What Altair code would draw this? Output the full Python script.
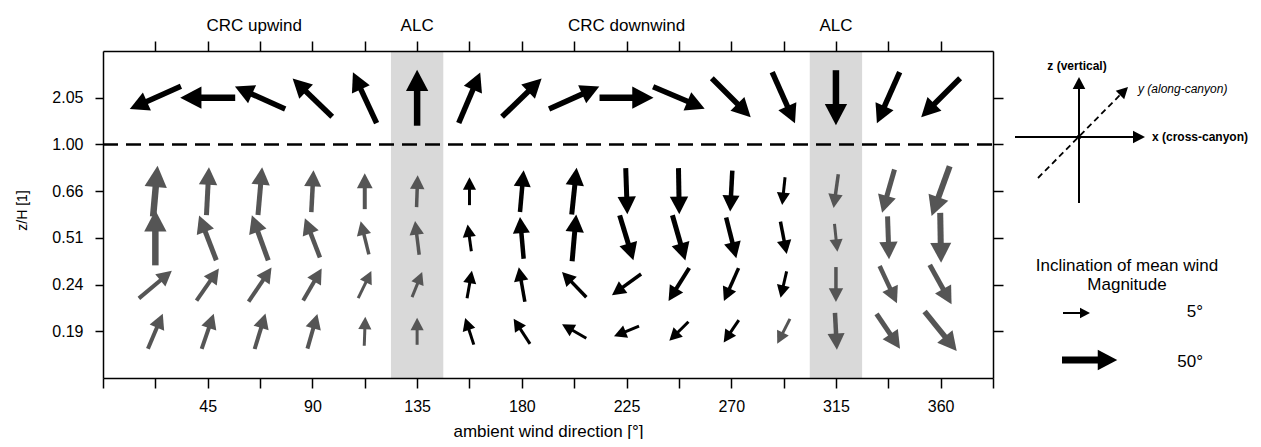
import altair as alt
import pandas as pd

# ---------------- data ----------------
W, H = 890, 327
X_MAX = 382.5
Y_MAX = 7

directions = [22.5, 45, 67.5, 90, 112.5, 135, 157.5, 180, 202.5, 225, 247.5, 270, 292.5, 315, 337.5, 360]

x_tick_values = [0, 22.5, 45, 67.5, 90, 112.5, 135, 157.5, 180, 202.5, 225, 247.5,
                 270, 292.5, 315, 337.5, 360, 382.5]
x_tick_labels = ["", "", "45", "", "90", "", "135", "", "180", "", "225", "",
                 "270", "", "315", "", "360", ""]
top_tick_values = directions

y_level_labels = ["0.19", "0.24", "0.51", "0.66", "1.00", "2.05"]
y_tick_values = [1, 2, 3, 4, 5, 6]

top_labels = ["CRC upwind", "ALC", "CRC downwind", "ALC"]
top_label_dirs = [65, 135, 225, 315]
alc_dirs = [135, 315]

# arrow direction on the page (deg clockwise from up), length (px), width (px), group
ang_205 = [246, 270, 294, 314, 335, 0, 23, 46, 66, 90, 113, 135, 156, 180, 204, 225]
len_205 = [56, 55, 55, 55, 56, 56, 55, 55, 55, 54, 56, 55, 56, 55, 56, 55]
wid_205 = [5.5, 6.5, 5.5, 5.5, 5.5, 6.5, 5.5, 5.5, 5.5, 6.5, 5.5, 5.5, 5.5, 6.5, 5.5, 5.5]
grp_205 = ["black"] * 16

ang_066 = [5, 3, 5, 3, 0, 2, 0, 5, 6, 178, 179, 183, 186, 188, 196, 200]
len_066 = [51, 48, 48, 42, 36, 32, 28, 42, 47, 46, 46, 41, 28, 34, 45, 53]
wid_066 = [6.5, 5, 5, 4.5, 4, 3.5, 3, 4.5, 5, 5, 5, 4.5, 3, 3.5, 5, 6]
grp_066 = ["grey"] * 6 + ["black"] * 7 + ["grey"] * 3

ang_051 = [0, 339, 340, 339, 346, 353, 352, 355, 5, 163, 164, 166, 169, 174, 178, 179]
len_051 = [55, 48, 48, 42, 34, 34, 27, 42, 47, 47, 47, 42, 33, 28, 43, 50]
wid_051 = [6.5, 5, 5, 4.5, 3.5, 3.5, 3, 4.5, 5, 5, 5, 4.5, 3.5, 3, 5, 6]
grp_051 = ["grey"] * 6 + ["black"] * 7 + ["grey"] * 3

ang_024 = [50, 35, 34, 30, 26, 22, 10, 350, 316, 234, 212, 204, 193, 180, 155, 151]
len_024 = [43, 39, 41, 37, 30, 27, 28, 35, 35, 36, 39, 36, 27, 35, 41, 45]
wid_024 = [4, 4, 4, 4, 3, 3, 3, 3.5, 3.5, 3.5, 4, 3.5, 3, 3.5, 4.5, 5]
grp_024 = ["grey"] * 6 + ["black"] * 7 + ["grey"] * 3

ang_019 = [23, 19, 17, 16, 2, 0, 342, 327, 300, 248, 225, 214, 207, 177, 146, 141]
len_019 = [38, 37, 37, 36, 29, 27, 28, 30, 28, 27, 27, 27, 28, 37, 42, 51]
wid_019 = [4, 4, 4, 4, 3, 3, 3, 3, 3, 3, 3, 3, 3, 4.5, 5, 5.5]
grp_019 = ["grey"] * 6 + ["black"] * 6 + ["grey"] * 4

rows = {
    "2.05": (ang_205, len_205, wid_205, grp_205),
    "0.66": (ang_066, len_066, wid_066, grp_066),
    "0.51": (ang_051, len_051, wid_051, grp_051),
    "0.24": (ang_024, len_024, wid_024, grp_024),
    "0.19": (ang_019, len_019, wid_019, grp_019),
}

recs = []
for lvl, (angs, lens, wids, grps) in rows.items():
    for d, a, l, w, g in zip(directions, angs, lens, wids, grps):
        recs.append(dict(dir=d, level=y_level_labels.index(lvl) + 1,
                         ang=a, len=l, w=w, grp=g))
arrows = pd.DataFrame(recs)

bands = pd.DataFrame({"c": alc_dirs})
toplab = pd.DataFrame({"dir": top_label_dirs, "label": top_labels})
dashed = pd.DataFrame({"level": [y_level_labels.index("1.00") + 1]})

# ---------------- scales / axes ----------------
xscale = alt.Scale(domain=[0, X_MAX], nice=False, zero=False)
yscale = alt.Scale(domain=[0, Y_MAX], nice=False, zero=False)

FONT = "Liberation Sans"
x_expr = "[" + ",".join("'%s'" % s for s in x_tick_labels) + "][round(datum.value/22.5)]"
y_expr = "[''," + ",".join("'%s'" % s for s in y_level_labels) + "][datum.value]"

common_axis = dict(grid=False, domainColor="black", domainWidth=1.5, tickColor="black",
                   tickWidth=1.5, zindex=1, labelColor="black", labelFont=FONT,
                   titleFont=FONT, titleColor="black", titleFontWeight="normal")

axis_bottom = alt.Axis(orient="bottom", values=x_tick_values, labelExpr=x_expr,
                       tickSize=10, labelFontSize=16, labelPadding=10, labelOverlap=False,
                       labelFlush=False,
                       title="ambient wind direction [°]", titleFontSize=17,
                       titleY=58, titleBaseline="alphabetic", **common_axis)
axis_top = alt.Axis(orient="top", values=top_tick_values, labels=False, tickSize=10,
                    title=None, **common_axis)
axis_left = alt.Axis(orient="left", values=y_tick_values, labelExpr=y_expr, tickSize=8,
                     labelFontSize=16, labelPadding=12, labelOverlap=False,
                     title="z/H [1]", titleFontSize=14, titleAngle=270, titleX=-81,
                     titleY=159, titleAlign="center", titleBaseline="middle", **common_axis)
axis_right = alt.Axis(orient="right", values=y_tick_values, labels=False, tickSize=10,
                      title=None, **common_axis)

KX = X_MAX / W
KY = Y_MAX / H

base = alt.Chart(arrows).transform_calculate(
    ux="sin(datum.ang*PI/180)", uy="cos(datum.ang*PI/180)", hl="2.5*datum.w+5"
).transform_calculate(
    xtip=f"datum.dir + 0.5*datum.len*datum.ux*{KX}",
    ytip=f"datum.level + 0.5*datum.len*datum.uy*{KY}",
    xtail=f"datum.dir - 0.5*datum.len*datum.ux*{KX}",
    ytail=f"datum.level - 0.5*datum.len*datum.uy*{KY}",
).transform_calculate(
    xs=f"datum.xtip - 0.8*datum.hl*datum.ux*{KX}",
    ys=f"datum.ytip - 0.8*datum.hl*datum.uy*{KY}",
    xh=f"datum.xtip - 0.5*datum.hl*datum.ux*{KX}",
    yh=f"datum.ytip - 0.5*datum.hl*datum.uy*{KY}",
    hs="datum.hl*datum.hl",
)

color = alt.Color("grp:N", scale=alt.Scale(domain=["black", "grey"], range=["#000000", "#555555"]),
                  legend=None)

band_layer = alt.Chart(bands).transform_calculate(
    x0="datum.c - 11.25", x1="datum.c + 11.25"
).mark_rect(color="#d9d9d9").encode(
    x=alt.X("x0:Q", scale=xscale, axis=axis_bottom),
    x2="x1:Q",
    y=alt.value(0), y2=alt.value(H),
)

dash_layer = alt.Chart(dashed).mark_rule(color="black", strokeWidth=2.5, strokeDash=[15, 8]).encode(
    y=alt.Y("level:Q", scale=yscale, axis=None),
    x=alt.value(0), x2=alt.value(W),
)

shaft_layer = base.mark_rule(strokeCap="butt").encode(
    x=alt.X("xtail:Q", scale=xscale, axis=None),
    y=alt.Y("ytail:Q", scale=yscale, axis=axis_left),
    x2="xs:Q", y2="ys:Q",
    strokeWidth=alt.StrokeWidth("w:Q", scale=None),
    color=color,
)

HEAD = "M0,-1L1.05,1L-1.05,1Z"
head_layer = base.mark_point(shape=HEAD, filled=True, opacity=1, strokeWidth=0).encode(
    x=alt.X("xh:Q", scale=xscale, axis=axis_top),
    y=alt.Y("yh:Q", scale=yscale, axis=axis_right),
    angle=alt.Angle("ang:Q", scale=None),
    size=alt.Size("hs:Q", scale=None),
    color=color,
)

top_text = alt.Chart(toplab).mark_text(fontSize=17, font=FONT, baseline="alphabetic",
                                       align="center", color="black").encode(
    x=alt.X("dir:Q", scale=xscale, axis=None),
    y=alt.value(-20),
    text="label:N",
)

# ---------------- coordinate sketch & legend (annotation, pixel placed) ----------------
one = pd.DataFrame({"k": [0]})
ann = []
def rule(x, x2, y, y2, sw=2, dash=None):
    kw = dict(color="black", strokeWidth=sw, strokeCap="butt")
    if dash:
        kw["strokeDash"] = dash
    return alt.Chart(one).mark_rule(**kw).encode(
        x=alt.value(x), x2=alt.value(x2), y=alt.value(y), y2=alt.value(y2))
def head(x, y, ang, size):
    return alt.Chart(one).mark_point(shape=HEAD, filled=True, opacity=1, strokeWidth=0,
                                     color="black").encode(
        x=alt.value(x), y=alt.value(y), angle=alt.value(ang), size=alt.value(size))
def label(txt, x, y, size=12, weight="normal", style="normal", align="left"):
    return alt.Chart(one).mark_text(text=txt, font=FONT, fontSize=size, fontWeight=weight,
                                    fontStyle=style, align=align, baseline="alphabetic",
                                    color="black").encode(x=alt.value(x), y=alt.value(y))

ann += [
    rule(976, 976, 152, 36),
    head(976, 32, 0, 144),
    rule(912, 1033, 86, 86),
    head(1036, 86, 90, 144),
    rule(935, 1019, 127, 42, sw=1.8, dash=[6, 4]),
    head(1021, 40, 45, 130),
    alt.Chart(one).mark_point(filled=True, color="black", opacity=1, size=20).encode(
        x=alt.value(976), y=alt.value(86)),
    label("z (vertical)", 974, 19, weight="bold", align="center"),
    label("y (along-canyon)", 1035, 42, style="italic"),
    label("x (cross-canyon)", 1049, 90, weight="bold"),
    label("Inclination of mean wind", 1024, 220, size=17, align="center"),
    label("Magnitude", 1024, 239, size=17, align="center"),
    rule(960, 979, 262, 262, sw=2),
    head(982, 262, 90, 100),
    label("5°", 1100, 266, size=17, align="right"),
    rule(959, 998, 309, 309, sw=7),
    head(1004.5, 309, 90, 380),
    label("50°", 1100, 316, size=17, align="right"),
]

chart = alt.layer(band_layer, dash_layer, shaft_layer, head_layer, top_text, *ann).resolve_axis(
    x="independent", y="independent"
).properties(
    width=W, height=H,
    autosize=alt.AutoSizeParams(type="none"),
    padding={"left": 95, "top": 43, "right": 260, "bottom": 61},
).configure_view(stroke=None).configure(font=FONT, background="white")

chart.save("out.html", embed_options={"renderer": "svg", "actions": False})
